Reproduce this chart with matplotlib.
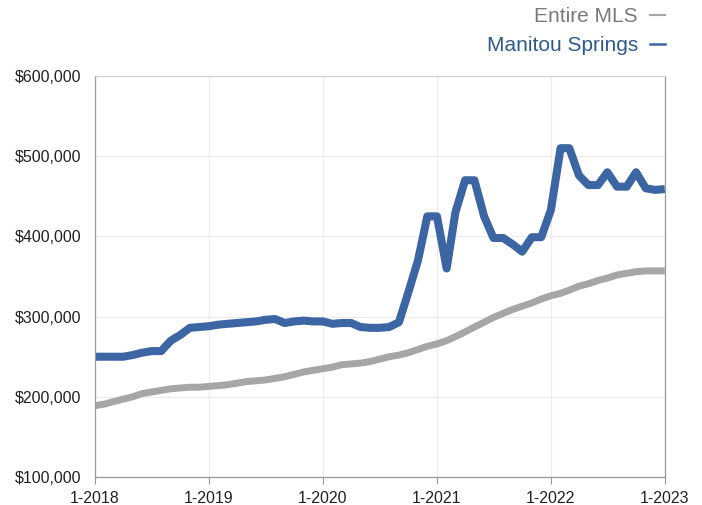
import pandas as pd
import matplotlib
matplotlib.use("Agg")
import matplotlib.pyplot as plt
from matplotlib.lines import Line2D
from matplotlib.ticker import FuncFormatter

plt.rcParams["font.family"] = ["Liberation Sans", "DejaVu Sans"]

# monthly values, 1-2018 .. 1-2023, in thousands of dollars
months = pd.date_range("2018-01-01", "2023-01-01", freq="MS")
entire_mls = [189, 191, 194, 197, 200, 204, 206, 208, 210, 211, 212, 212,
              213, 214, 215, 217, 219, 220, 221, 223, 225, 228, 231, 233,
              235, 237, 240, 241, 242, 244, 247, 250, 252, 255, 259, 263,
              266, 270, 275, 281, 287, 293, 299, 304, 309, 313, 317, 322,
              326, 329, 333, 338, 341, 345, 348, 352, 354, 356, 357, 357,
              357]
manitou = [250, 250, 250, 250, 252, 255, 257, 257, 270, 277, 286, 287,
           288, 290, 291, 292, 293, 294, 296, 297, 292, 294, 295, 294,
           294, 291, 292, 292, 287, 286, 286, 287, 293, 330, 370, 425,
           425, 360, 430, 470, 470, 425, 398, 398, 390, 381, 399, 399,
           433, 510, 510, 476, 464, 464, 480, 462, 462, 480, 460, 458,
           459]
series_names = ["Entire MLS", "Manitou Springs"]
tick_years = [2018, 2019, 2020, 2021, 2022, 2023]

blue = "#3b65a3"
grey = "#a6a6a6"

fig = plt.figure(figsize=(7.02, 5.05), dpi=100)
ax = fig.add_axes([0.1353, 0.0554, 0.8117, 0.7941])

ax.plot(months, [v * 1000 for v in entire_mls], color=grey, lw=5, solid_capstyle="butt")
ax.plot(months, [v * 1000 for v in manitou], color=blue, lw=5.8, solid_capstyle="butt")

ax.set_xlim(months[0], months[-1])
ax.set_ylim(100000, 600000)
ax.set_yticks(range(100000, 600001, 100000))
ax.yaxis.set_major_formatter(FuncFormatter(lambda v, p: "${:,.0f}".format(v)))
ticks = [pd.Timestamp(year=y, month=1, day=1) for y in tick_years]
ax.set_xticks(ticks)
ax.set_xticklabels(["1-" + str(y) for y in tick_years])

ax.tick_params(axis="y", length=0, pad=10, labelsize=11.5, labelcolor="#222222")
ax.tick_params(axis="x", length=5, width=0.8, color="#999999", pad=5,
               labelsize=11.5, labelcolor="#222222")
ax.grid(True, color="#ececec", lw=0.8)
ax.set_axisbelow(True)
for side in ["left", "bottom", "right"]:
    ax.spines[side].set_color("#9a9a9a")
    ax.spines[side].set_linewidth(0.9)
ax.spines["top"].set_color("#cfcfcf")

handles = [Line2D([], [], color=grey, lw=1.5), Line2D([], [], color=blue, lw=1.8)]
fig.legend(handles, series_names, loc="upper right",
           bbox_to_anchor=(665 / 702, 1 - 7 / 505),
           frameon=False, markerfirst=False, handlelength=0.7, handletextpad=0.6,
           fontsize=15, labelcolor=["#7a7a7a", "#2f5a8c"], labelspacing=0.5,
           borderaxespad=0, borderpad=0)

fig.savefig("out.png", dpi=100, facecolor="white")
